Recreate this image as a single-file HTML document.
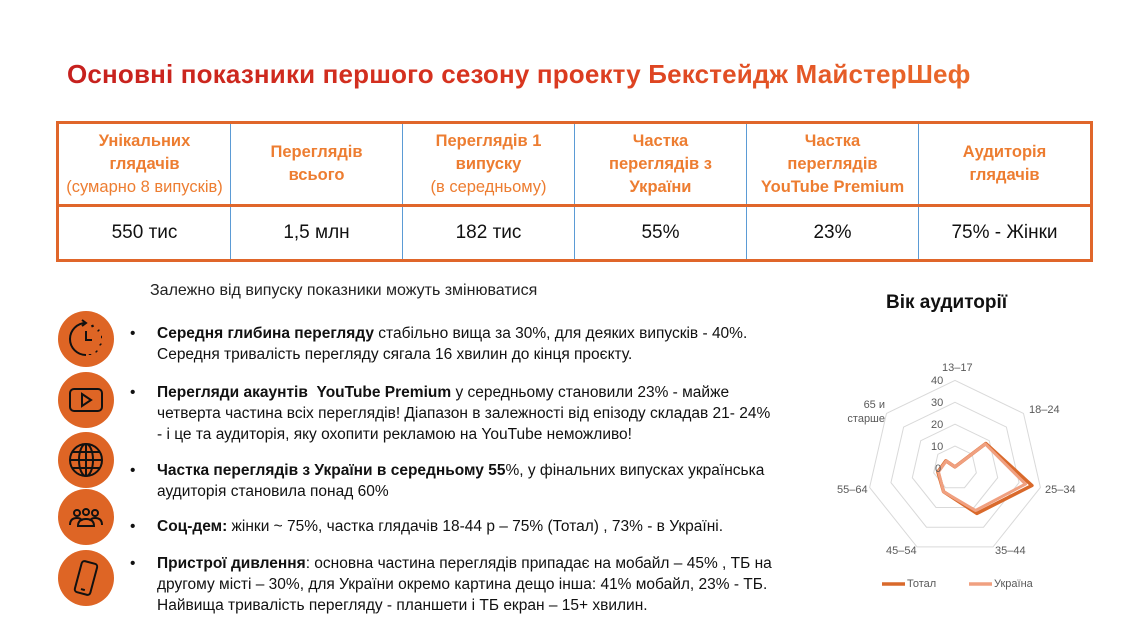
<!DOCTYPE html>
<html><head><meta charset="utf-8"><style>
body{margin:0;width:1144px;height:624px;background:#fff;position:relative;overflow:hidden;font-family:"Liberation Sans","DejaVu Sans",sans-serif;}
.title{position:absolute;left:67px;top:59px;font-size:26px;letter-spacing:0.17px;font-weight:bold;white-space:nowrap;background:linear-gradient(90deg,#c6201e,#d9361f 50%,#ea6a2a);-webkit-background-clip:text;background-clip:text;color:transparent;}
table{position:absolute;left:56px;top:121px;border-collapse:collapse;border:3px solid #e0662a;}
td{width:171px;text-align:center;border-left:1.5px solid #5b9bd5;padding:0;}
td:first-child{border-left:none}
tr.h td{height:80px;color:#ed7d31;font-weight:bold;font-size:16.5px;line-height:23px;border-bottom:3px solid #e0662a;}
tr.h td span{font-weight:normal}
tr.v td{height:52px;font-size:19px;color:#111;}
.sub{position:absolute;left:150px;top:282px;font-size:16px;color:#222;}
.age{position:absolute;left:886px;top:292px;font-size:19px;font-weight:bold;color:#111;}
.ic{position:absolute;left:58px;width:56px;height:56px;border-radius:50%;background:#de6525;}
.ic svg{position:absolute;left:0;top:0}
.b{position:absolute;left:157px;font-size:15.5px;line-height:21px;color:#111;white-space:nowrap;}
.b:before{content:"•";position:absolute;left:-27px;}
.rl{position:absolute;font-size:11px;color:#595959;}
</style></head><body>
<div class="title">Основні показники першого сезону проекту Бекстейдж МайстерШеф</div>
<table>
<tr class="h"><td>Унікальних<br>глядачів<br><span>(сумарно 8 випусків)</span></td><td>Переглядів<br>всього</td><td>Переглядів 1<br>випуску<br><span>(в середньому)</span></td><td>Частка<br>переглядів з<br>України</td><td>Частка<br>переглядів<br>YouTube Premium</td><td>Аудиторія<br>глядачів</td></tr>
<tr class="v"><td>550 тис</td><td>1,5 млн</td><td>182 тис</td><td>55%</td><td>23%</td><td>75% - Жінки</td></tr>
</table>
<div class="sub">Залежно від випуску показники можуть змінюватися</div>
<div class="age">Вік аудиторії</div>

<div class="ic" style="top:311px"><svg width="56" height="56" fill="none" stroke="#111" stroke-width="2"><path d="M28 12 A16 16 0 1 0 28 44"/><path d="M24 9 L28 12 L24 15"/><path d="M28 20 V29 H34"/><path d="M34 14 l1 2 M40 19 l1 1 M43 26 h1 M42 33 l1 1 M38 40 l1 1 M32 43 v1" stroke-width="2.5"/></svg></div>
<div class="ic" style="top:372px"><svg width="56" height="56" fill="none" stroke="#111" stroke-width="2"><rect x="12" y="17" width="32" height="22" rx="4"/><path d="M24 22 L33 28 L24 34 Z"/></svg></div>
<div class="ic" style="top:432px"><svg width="56" height="56" fill="none" stroke="#111" stroke-width="2"><circle cx="28" cy="28" r="16"/><ellipse cx="28" cy="28" rx="7" ry="16"/><path d="M12 28 H44 M14 20 H42 M14 36 H42 M28 12 V44"/></svg></div>
<div class="ic" style="top:489px"><svg width="56" height="56" fill="none" stroke="#111" stroke-width="2"><circle cx="19" cy="24" r="3"/><circle cx="28" cy="23" r="3"/><circle cx="37" cy="24" r="3"/><path d="M12 36 q0-7 7-7 q4 0 5 3 M44 36 q0-7-7-7 q-4 0-5 3 M20 37 q0-7 8-7 q8 0 8 7 Z"/></svg></div>
<div class="ic" style="top:550px"><svg width="56" height="56" fill="none" stroke="#111" stroke-width="2"><rect x="20" y="12" width="16" height="32" rx="3" transform="rotate(15 28 28)"/><path d="M26 40 h4" transform="rotate(15 28 28)"/></svg></div>

<div class="b" style="top:323px"><b>Середня глибина перегляду</b> стабільно вища за 30%, для деяких випусків - 40%.<br>Середня тривалість перегляду сягала 16 хвилин до кінця проєкту.</div>
<div class="b" style="top:382px"><b>Перегляди акаунтів&nbsp; YouTube Premium</b> у середньому становили 23% - майже<br>четверта частина всіх переглядів! Діапазон в залежності від епізоду складав 21- 24%<br>- і це та аудиторія, яку охопити рекламою на YouTube неможливо!</div>
<div class="b" style="top:460px"><b>Частка переглядів з України в середньому 55</b>%, у фінальних випусках українська<br>аудиторія становила понад 60%</div>
<div class="b" style="top:516px"><b>Соц-дем:</b> жінки ~ 75%, частка глядачів 18-44 р – 75% (Тотал) , 73% - в Україні.</div>
<div class="b" style="top:553px"><b>Пристрої дивлення</b>: основна частина переглядів припадає на мобайл – 45% , ТБ на<br>другому місті – 30%, для України окремо картина дещо інша: 41% мобайл, 23% - ТБ.<br>Найвища тривалість перегляду - планшети і ТБ екран – 15+ хвилин.</div>

<svg style="position:absolute;left:0;top:0" width="1144" height="624">
<g fill="none" stroke="#d9d9d9" stroke-width="1">
<polygon points="0,-1 0.782,-0.623 0.975,0.2225 0.434,0.901 -0.434,0.901 -0.975,0.2225 -0.782,-0.623" transform="translate(955 468) scale(21.9)" vector-effect="non-scaling-stroke"/>
<polygon points="0,-1 0.782,-0.623 0.975,0.2225 0.434,0.901 -0.434,0.901 -0.975,0.2225 -0.782,-0.623" transform="translate(955 468) scale(43.8)" vector-effect="non-scaling-stroke"/>
<polygon points="0,-1 0.782,-0.623 0.975,0.2225 0.434,0.901 -0.434,0.901 -0.975,0.2225 -0.782,-0.623" transform="translate(955 468) scale(65.7)" vector-effect="non-scaling-stroke"/>
<polygon points="0,-1 0.782,-0.623 0.975,0.2225 0.434,0.901 -0.434,0.901 -0.975,0.2225 -0.782,-0.623" transform="translate(955 468) scale(87.6)" vector-effect="non-scaling-stroke"/>
</g>
<polygon fill="none" stroke="#d9692b" stroke-width="3.5" stroke-linejoin="round" points="955,466.9 985.8,443.5 1031.9,485.5 976.9,513.4 943.6,491.7 937.9,471.9 945.9,460.8"/>
<polygon fill="none" stroke="#f0a080" stroke-width="3" stroke-linejoin="round" points="955,466.9 985.3,443.9 1025.5,484.1 975.5,510.5 943.6,491.7 938.5,471.8 946.2,461"/>
<line x1="882" y1="584" x2="905" y2="584" stroke="#d9692b" stroke-width="3.5"/>
<line x1="969" y1="584" x2="992" y2="584" stroke="#f0a080" stroke-width="3.5"/>
</svg>
<div class="rl" style="left:942px;top:362px">13–17</div>
<div class="rl" style="left:931px;top:375px">40</div>
<div class="rl" style="left:931px;top:397px">30</div>
<div class="rl" style="left:931px;top:419px">20</div>
<div class="rl" style="left:931px;top:441px">10</div>
<div class="rl" style="left:935px;top:463px">0</div>
<div class="rl" style="left:1029px;top:404px">18–24</div>
<div class="rl" style="left:1045px;top:484px">25–34</div>
<div class="rl" style="left:995px;top:545px">35–44</div>
<div class="rl" style="left:886px;top:545px">45–54</div>
<div class="rl" style="left:837px;top:484px">55–64</div>
<div class="rl" style="left:845px;top:398px;text-align:right;width:40px;line-height:14px">65 и<br>старше</div>
<div class="rl" style="left:907px;top:578px">Тотал</div>
<div class="rl" style="left:994px;top:578px">Україна</div>
</body></html>
